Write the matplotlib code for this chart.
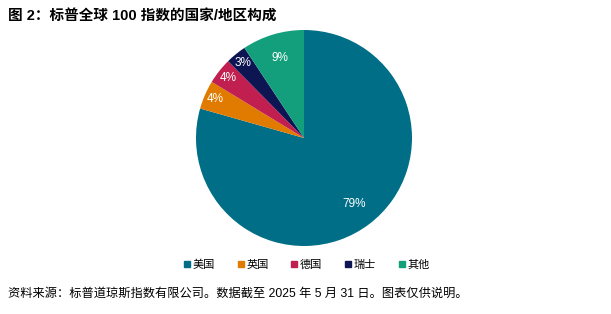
import matplotlib
matplotlib.use("Agg")
import numpy as np
import matplotlib.pyplot as plt
from matplotlib.lines import Line2D

plt.rcParams['font.family'] = ['Liberation Sans', 'Noto Sans CJK SC', 'DejaVu Sans']

categories = ["美国", "英国", "德国", "瑞士", "其他"]
values = [79.4, 4.3, 3.9, 3.1, 9.3]
colors = ["#006e86", "#e07b00", "#c01f50", "#0d1552", "#139f7c"]

title = "图 2：标普全球 100 指数的国家/地区构成"
footer = "资料来源：标普道琼斯指数有限公司。数据截至 2025 年 5 月 31 日。图表仅供说明。"

W, H = 611, 314
fig = plt.figure(figsize=(W / 100, H / 100), dpi=100)
cx, cy, r = 304, 138, 108
ax = fig.add_axes([(cx - r) / W, (H - cy - r) / H, 2 * r / W, 2 * r / H])
wedges, texts, autotexts = ax.pie(
    values, colors=colors, startangle=90, counterclock=False,
    autopct=lambda p: f"{p:.0f}%", pctdistance=0.77,
    textprops=dict(color="white", fontsize=8.5),
    wedgeprops=dict(linewidth=0))
# small slices have their labels placed further out
for w, t, v in zip(wedges, autotexts, values):
    ang = np.deg2rad((w.theta1 + w.theta2) / 2)
    d = 0.9 if v < 5 else 0.77
    t.set_position((d * np.cos(ang), d * np.sin(ang)))
ax.set_xlim(-1, 1)
ax.set_ylim(-1, 1)
ax.set_aspect('auto')
ax.axis('off')

fig.text(8 / W, 1 - 16 / H, title, fontsize=10.5, fontweight='bold', va='center', ha='left')
fig.text(8 / W, 1 - 294 / H, footer, fontsize=8.8, va='center', ha='left')

handles = [Line2D([0], [0], marker='s', linestyle='none', markersize=4.5,
                  markerfacecolor=c, markeredgecolor=c) for c in colors]
fig.legend(handles, categories, loc='center', bbox_to_anchor=(307 / W, 1 - 265 / H),
           ncol=5, frameon=False, fontsize=8, handlelength=0.5, handletextpad=0.25,
           columnspacing=2.1)

fig.savefig("out.png", dpi=100)
